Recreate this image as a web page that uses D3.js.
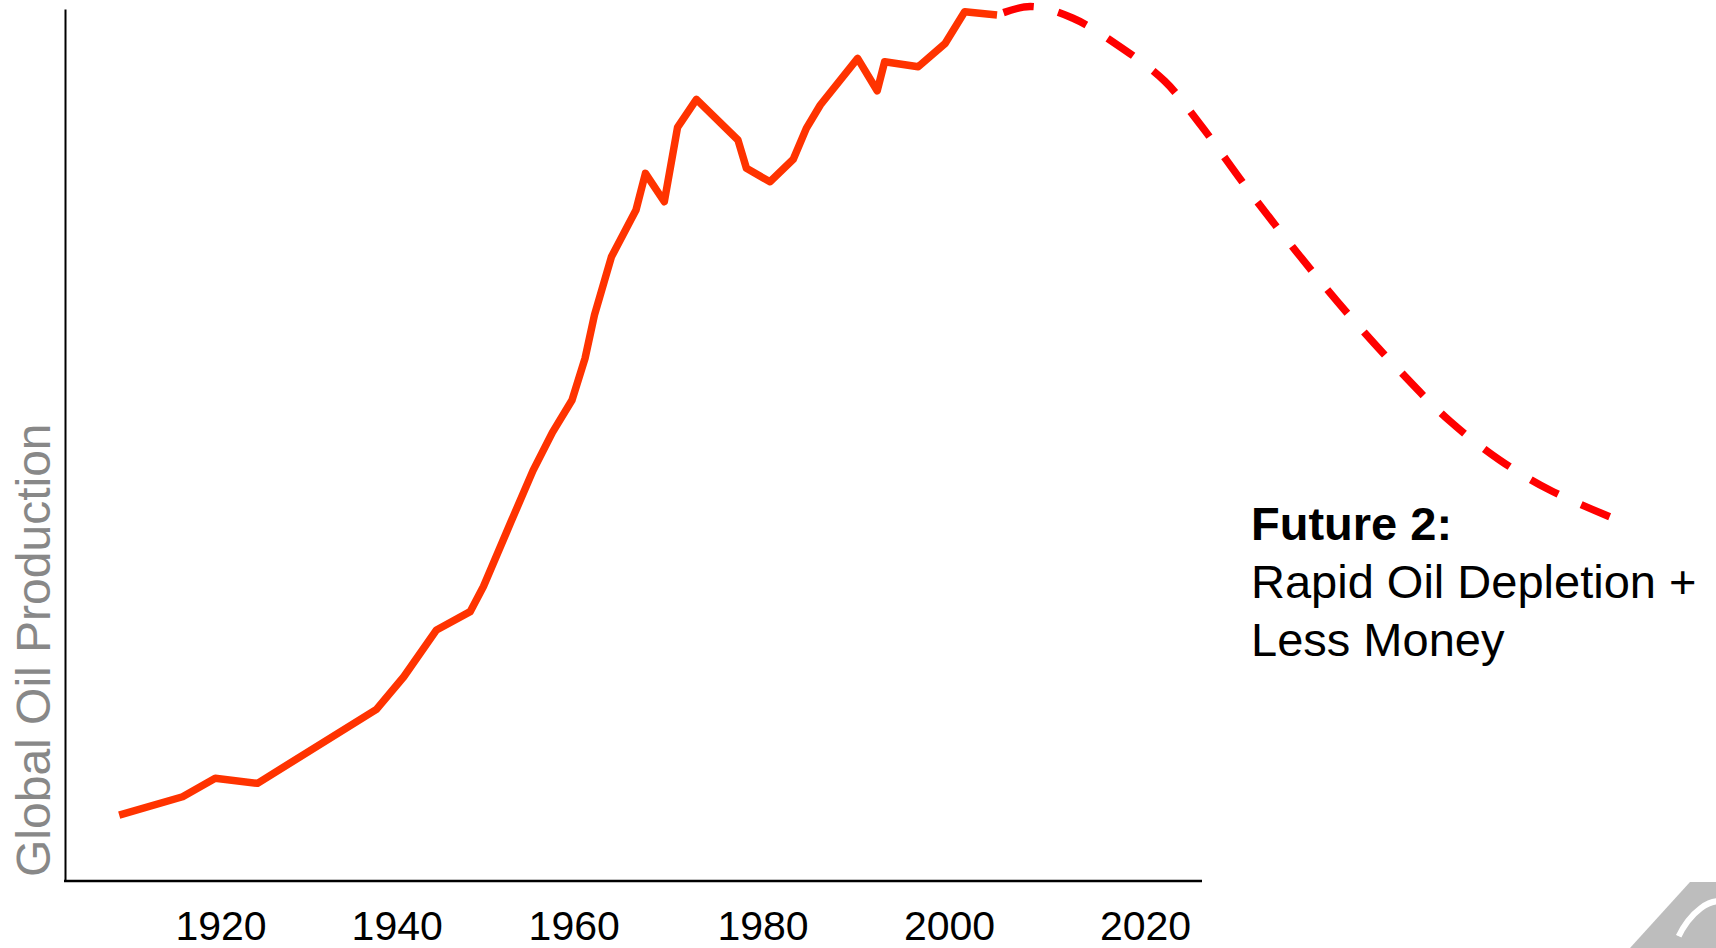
<!DOCTYPE html>
<html>
<head>
<meta charset="utf-8">
<script src="https://cdn.jsdelivr.net/npm/d3@7"></script>
<style>
    html, body { margin: 0; padding: 0; background: #fff; }
    svg { display: block; }
</style>
</head>
<body>
<svg id="chart" width="1716" height="948"></svg>
<script>
// Historic production (solid) - year / production index
var histYears = [1908.5, 1915.7, 1919.4, 1924.2, 1937.7, 1940.8, 1944.5, 1948.3, 1949.8, 1952.9,
    1955.4, 1957.6, 1959.8, 1961.2, 1962.2, 1964.0, 1966.6, 1967.6, 1969.6, 1971.0,
    1973.0, 1977.4, 1978.3, 1980.8, 1983.3, 1984.7, 1986.2, 1990.2, 1992.3, 1993.1,
    1996.7, 1999.6, 2001.6, 2004.9];
var histValues = [6.05, 7.73, 9.42, 8.96, 15.75, 18.74, 23.03, 24.71, 27.01, 32.93,
    37.65, 41.16, 44.10, 47.95, 51.93, 57.27, 61.56, 64.92, 62.32, 69.14,
    71.71, 67.98, 65.38, 64.15, 66.21, 69.05, 71.19, 75.47, 72.50, 75.16,
    74.70, 76.85, 79.75, 79.45];

// Future 2 scenario (dashed)
var futureYears = [2004.9, 2008.3, 2012.6, 2017.5, 2022.0, 2025.6, 2030.7, 2035.8, 2040.9,
    2046.0, 2051.1, 2056.2, 2061.3, 2067.5];
var futureValues = [79.45, 80.23, 79.17, 76.51, 73.39, 69.45, 63.21, 57.34, 51.83,
    46.79, 42.20, 38.62, 35.87, 33.39];

var tickYears = [1920, 1940, 1960, 1980, 2000, 2020];
// the tick labels on the slide are not evenly spaced, so the scale is piecewise
var tickPixels = [220.5, 396.7, 573.7, 762.5, 949, 1145];

var plot = { left: 65, right: 1202, top: 9, bottom: 881 };

var svg = d3.select("#chart");

var x = d3.scaleLinear()
    .domain(tickYears)
    .range(tickPixels);

var y = d3.scaleLinear()
    .domain([0, 80])
    .range([plot.bottom, plot.top]);

// Y axis (no ticks)
svg.append("g")
    .attr("transform", "translate(" + plot.left + ",0)")
    .call(d3.axisLeft(y).tickValues([]).tickSizeOuter(0))
    .select(".domain")
    .attr("stroke", "#000")
    .attr("stroke-width", 2);

// X axis baseline spans the whole frame
svg.append("line")
    .attr("x1", plot.left - 1)
    .attr("x2", plot.right)
    .attr("y1", plot.bottom)
    .attr("y2", plot.bottom)
    .attr("stroke", "#000")
    .attr("stroke-width", 2.5);

var xAxis = svg.append("g")
    .attr("transform", "translate(0," + plot.bottom + ")")
    .call(d3.axisBottom(x).tickValues(tickYears).tickSize(0).tickFormat(d3.format("d")));
xAxis.select(".domain").remove();
xAxis.selectAll("text")
    .attr("y", 59)
    .attr("dy", null)
    .attr("fill", "#000")
    .style("font-family", "'Liberation Sans', Arial, sans-serif")
    .style("font-size", "41px");

// Y label
svg.append("text")
    .attr("transform", "translate(50," + 877 + ") rotate(-90)")
    .attr("text-anchor", "start")
    .attr("fill", "#888")
    .style("font-family", "'Liberation Sans', Arial, sans-serif")
    .style("font-size", "48px")
    .text("Global Oil Production");

var line = d3.line()
    .x(function (d) { return x(d[0]); })
    .y(function (d) { return y(d[1]); });

var hist = d3.zip(histYears, histValues);
var future = d3.zip(futureYears, futureValues);

svg.append("path")
    .datum(hist)
    .attr("d", line)
    .attr("fill", "none")
    .attr("stroke", "#ff3300")
    .attr("stroke-width", 7.5)
    .attr("stroke-linejoin", "round");

svg.append("path")
    .datum(future)
    .attr("d", line.curve(d3.curveCatmullRom))
    .attr("fill", "none")
    .attr("stroke", "#ff0000")
    .attr("stroke-width", 7.5)
    .attr("stroke-dasharray", "31,25")
    .attr("stroke-dashoffset", 49);

// Annotation
var note = svg.append("text")
    .attr("x", 1251)
    .attr("y", 540)
    .attr("fill", "#000")
    .style("font-family", "'Liberation Sans', Arial, sans-serif")
    .style("font-size", "47px");
note.append("tspan")
    .attr("x", 1251)
    .style("font-weight", "bold")
    .text("Future 2:");
note.append("tspan")
    .attr("x", 1251)
    .attr("dy", 58)
    .text("Rapid Oil Depletion +");
note.append("tspan")
    .attr("x", 1251)
    .attr("dy", 58)
    .text("Less Money");

// Corner logo (partially cut off)
var logo = svg.append("g");
logo.append("clipPath")
    .attr("id", "logoClip")
    .append("polygon")
    .attr("points", "1630,948 1690,882 1716,882 1716,948");
logo.append("polygon")
    .attr("points", "1630,948 1690,882 1716,882 1716,948")
    .attr("fill", "#bdbdbd");
logo.append("ellipse")
    .attr("clip-path", "url(#logoClip)")
    .attr("cx", 1703)
    .attr("cy", 950)
    .attr("rx", 28)
    .attr("ry", 52)
    .attr("transform", "rotate(25,1703,950)")
    .attr("fill", "none")
    .attr("stroke", "#fff")
    .attr("stroke-width", 6);
</script>
</body>
</html>
